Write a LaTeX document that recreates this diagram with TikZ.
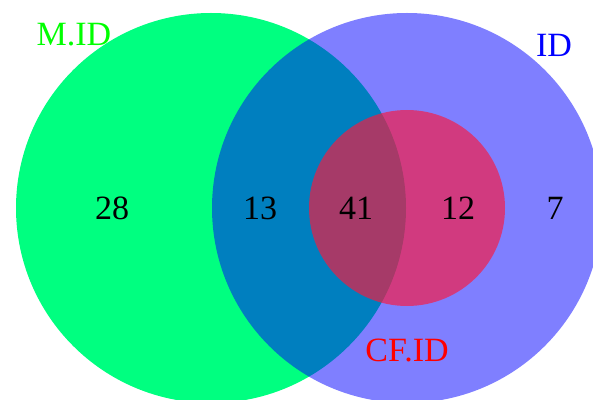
\documentclass[tikz,border=0pt]{standalone}
\usepackage{fontspec}
\setmainfont{Liberation Serif}
\definecolor{mgreen}{RGB}{0,255,128}
\definecolor{idblue}{RGB}{0,0,255}
\definecolor{cfpink}{RGB}{255,22,58}
\begin{document}
\begin{tikzpicture}[x=0.5pt, y=-0.5pt,
    num/.style={font=\fontsize{17}{20}\selectfont, text=black},
    lab/.style={font=\fontsize{17}{20}\selectfont}] % conjuntos del diagrama
\useasboundingbox (0,0) rectangle (593,400);
\clip (0,0) rectangle (593,400);
\fill[mgreen] (211,208) circle [radius=195];
\fill[idblue, opacity=0.5] (407,208) circle [radius=195];
\fill[cfpink, opacity=0.65] (407,208) circle [radius=98];
\node[num] (n28) at (112,208) {28};
\node[num] (n13) at (260,208) {13};
\node[num] (n41) at (356,208) {41};
\node[num] (n12) at (458,208) {12};
\node[num] (n7)  at (555,208) {7};
\node[lab, text=green] (mid) at (74,35) {M.ID};
\node[lab, text=idblue] (id) at (554,45) {ID};
\node[lab, text=red] (cfid) at (407,350) {CF.ID};
\end{tikzpicture}
\end{document}
